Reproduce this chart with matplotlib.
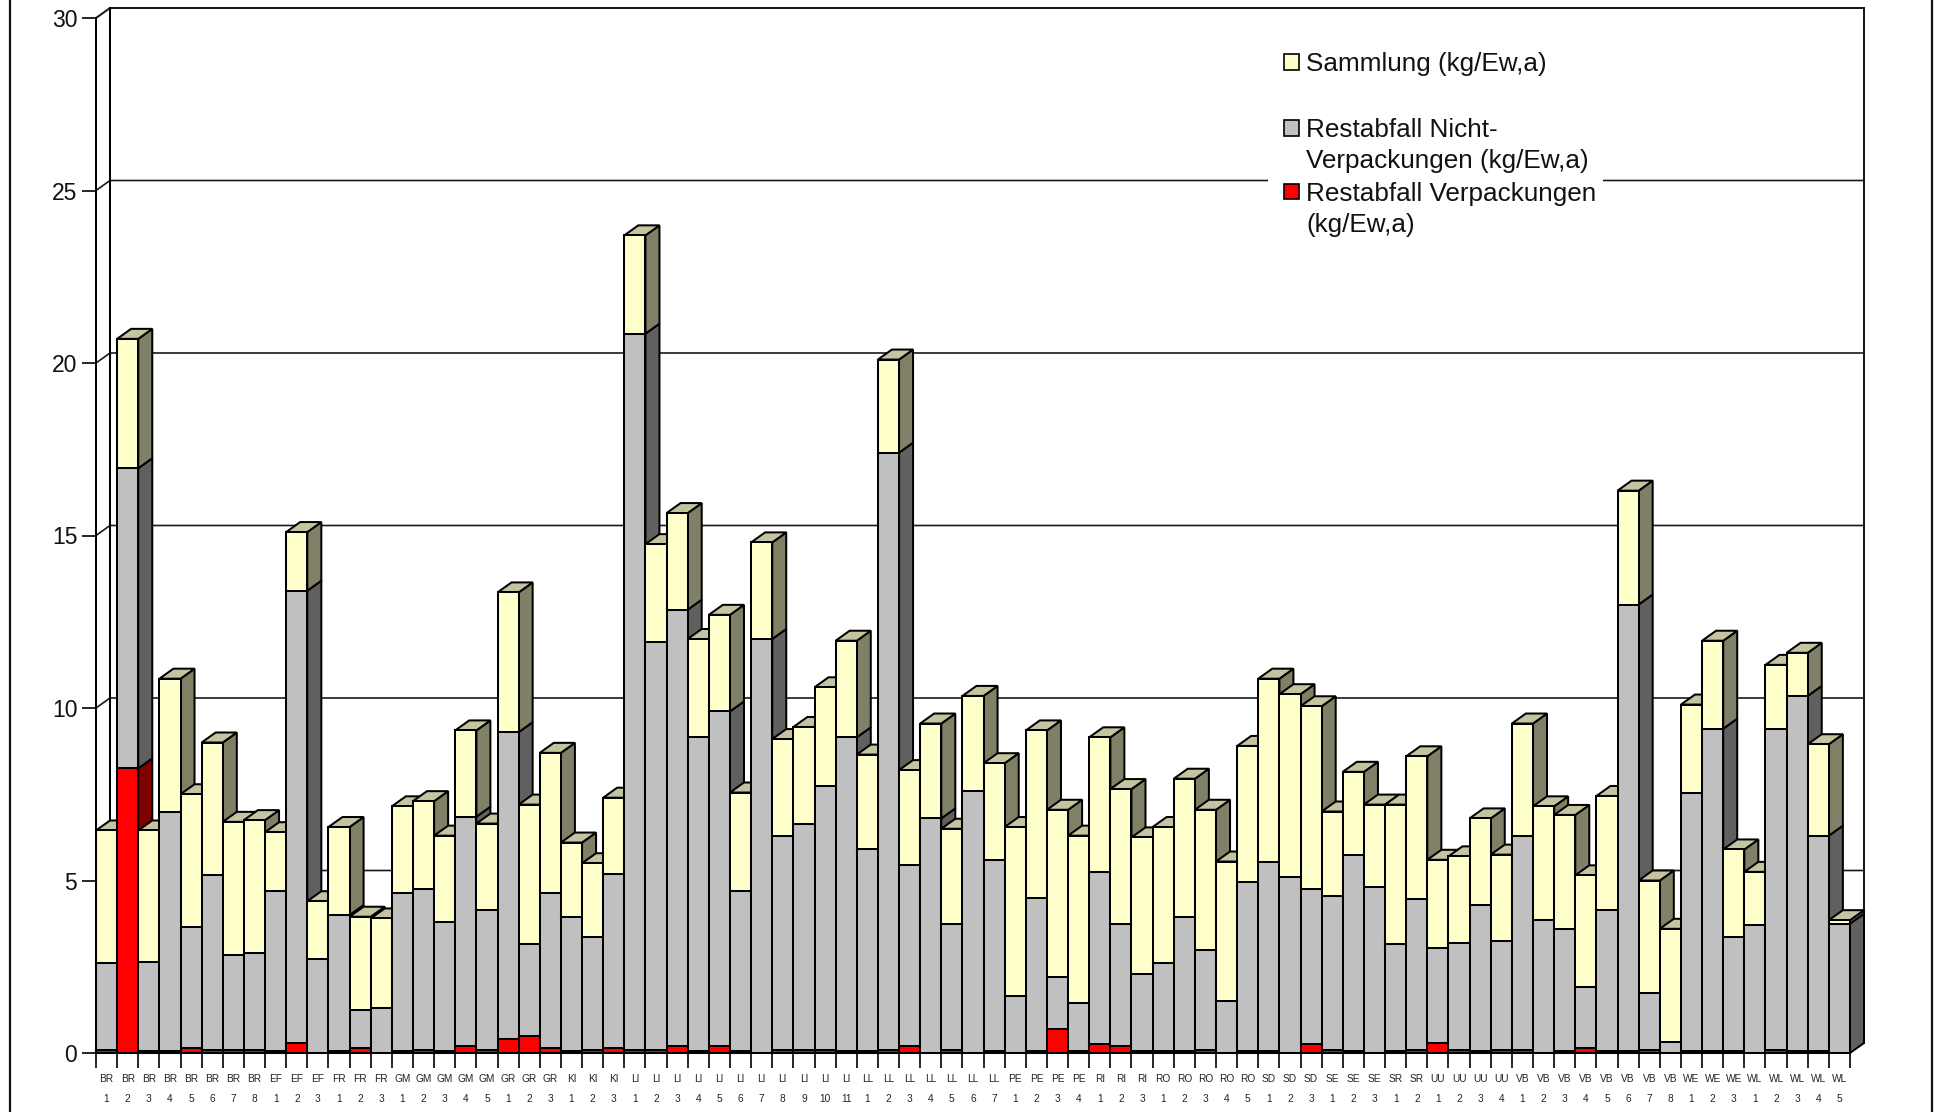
import numpy as np
import matplotlib
matplotlib.use("Agg")
import matplotlib.pyplot as plt
from matplotlib.patches import Polygon, Rectangle
from matplotlib.lines import Line2D

plt.rcParams['font.family'] = ['Liberation Sans', 'DejaVu Sans']

# Gebiete und Anzahl der Balken je Gebiet
regions = ['BR', 'EF', 'FR', 'GM', 'GR', 'KI', 'LI', 'LL', 'PE', 'RI', 'RO', 'SD', 'SE', 'SR', 'UU', 'VB', 'WE', 'WL']
region_counts = [8, 3, 3, 5, 3, 3, 11, 7, 4, 3, 5, 3, 3, 2, 4, 8, 3, 5]

verpackungen = [0.10, 8.25, 0.05, 0.05, 0.15, 0.10, 0.10, 0.10, 0.05, 0.28, 0.00, 0.05, 0.15, 0.00, 0.05, 0.10, 0.05,
                0.20, 0.10, 0.40, 0.50, 0.15, 0.05, 0.10, 0.15, 0.10, 0.10, 0.20, 0.05, 0.20, 0.05, 0.00, 0.10, 0.10,
                0.10, 0.05, 0.05, 0.10, 0.20, 0.00, 0.10, 0.00, 0.05, 0.00, 0.05, 0.70, 0.05, 0.25, 0.20, 0.05, 0.05,
                0.05, 0.10, 0.00, 0.05, 0.05, 0.00, 0.25, 0.10, 0.05, 0.00, 0.05, 0.10, 0.30, 0.10, 0.05, 0.10, 0.10,
                0.00, 0.05, 0.15, 0.05, 0.05, 0.10, 0.00, 0.05, 0.05, 0.05, 0.00, 0.10, 0.05, 0.05, 0.00]
# Obergrenze Restabfall (inkl. Verpackungen)
restabfall_oben = [2.60, 16.95, 2.65, 7.00, 3.65, 5.15, 2.85, 2.90, 4.70, 13.40, 2.72, 4.00, 1.25, 1.30, 4.65, 4.75,
                   3.80, 6.85, 4.15, 9.30, 3.15, 4.65, 3.95, 3.35, 5.20, 20.85, 11.90, 12.85, 9.15, 9.90, 4.70, 12.00,
                   6.30, 6.65, 7.75, 9.15, 5.90, 17.40, 5.45, 6.80, 3.75, 7.60, 5.60, 1.65, 4.50, 2.20, 1.45, 5.25,
                   3.75, 2.30, 2.60, 3.95, 3.00, 1.50, 4.95, 5.55, 5.10, 4.75, 4.55, 5.75, 4.80, 3.15, 4.45, 3.05,
                   3.20, 4.30, 3.25, 6.30, 3.85, 3.60, 1.90, 4.15, 13.00, 1.75, 0.33, 7.55, 9.40, 3.35, 3.70, 9.40,
                   10.35, 6.30, 3.75]
# Gesamthöhe der Balken
gesamt = [6.45, 20.70, 6.45, 10.85, 7.50, 9.00, 6.70, 6.75, 6.40, 15.10, 4.40, 6.55, 3.95, 3.90, 7.15, 7.30, 6.30,
          9.35, 6.65, 13.35, 7.20, 8.70, 6.10, 5.50, 7.40, 23.70, 14.75, 15.65, 12.00, 12.70, 7.55, 14.80, 9.10, 9.45,
          10.60, 11.95, 8.65, 20.10, 8.20, 9.55, 6.50, 10.35, 8.40, 6.55, 9.35, 7.05, 6.30, 9.15, 7.65, 6.25, 6.55,
          7.95, 7.05, 5.55, 8.90, 10.85, 10.40, 10.05, 7.00, 8.15, 7.20, 7.20, 8.60, 5.60, 5.70, 6.80, 5.75, 9.55,
          7.15, 6.90, 5.15, 7.45, 16.30, 5.00, 3.60, 10.10, 11.95, 5.90, 5.25, 11.25, 11.60, 8.95, 3.85]

y_ticks = [0, 5, 10, 15, 20, 25, 30]
legend_labels = ['Sammlung (kg/Ew,a)', 'Restabfall Nicht-\nVerpackungen (kg/Ew,a)', 'Restabfall Verpackungen\n(kg/Ew,a)']

# Farben: Front, Seite, Deckel
red = ('#FF0000', '#800000')
grey = ('#C0C0C0', '#606060')
yellow = ('#FFFFCC', '#808066')
yellow_top = '#C4C4A0'
line_w = 1.45

W, H = 1934, 1112
left, right, y0_px, y30_px = 96, 1850, 1053, 18

fig = plt.figure(figsize=(W / 100, H / 100), dpi=100)
ax = fig.add_axes([left / W, 1 - y0_px / H, (right - left) / W, (y0_px - y30_px) / H])

n = len(gesamt)
ax.set_xlim(-0.5, n - 0.5)
ax.set_ylim(0, 30)
dx = 14 / ((right - left) / n)
dy = 10 / ((y0_px - y30_px) / 30)

# Rückwand mit Gitterlinien
for t in y_ticks:
    ax.plot([-0.5, -0.5 + dx, n - 0.5 + dx], [t, t + dy, t + dy], color='#1a1a1a', lw=1.2 if t < 30 else line_w,
            clip_on=False, zorder=1)
ax.plot([-0.5 + dx, -0.5 + dx], [dy, 30 + dy], color='black', lw=line_w, clip_on=False, zorder=1)
ax.plot([n - 0.5 + dx, n - 0.5 + dx], [dy, 30 + dy], color='#1a1a1a', lw=line_w, clip_on=False, zorder=1)

# Balken von links nach rechts, jeder verdeckt die Seite des vorigen
z = 2
for i in range(n):
    stops = [0, verpackungen[i], restabfall_oben[i], gesamt[i]]
    colors = [red, grey, yellow]
    for k in range(3):
        b, t = stops[k], stops[k + 1]
        if t <= b:
            continue
        ax.add_patch(Polygon([(i + 0.5, b), (i + 0.5 + dx, b + dy), (i + 0.5 + dx, t + dy), (i + 0.5, t)],
                             facecolor=colors[k][1], edgecolor='black', lw=line_w, clip_on=False, zorder=z))
    ax.add_patch(Polygon([(i - 0.5, gesamt[i]), (i - 0.5 + dx, gesamt[i] + dy), (i + 0.5 + dx, gesamt[i] + dy),
                          (i + 0.5, gesamt[i])],
                         facecolor=yellow_top, edgecolor='black', lw=line_w, clip_on=False, zorder=z))
    z += 1
    for k in range(3):
        b, t = stops[k], stops[k + 1]
        if t <= b:
            continue
        ax.bar(i, t - b, bottom=b, width=1.0, color=colors[k][0], edgecolor='black', linewidth=line_w,
               clip_on=False, zorder=z)
    z += 1

# Achsen
for s in ['top', 'right']:
    ax.spines[s].set_visible(False)
for s in ['left', 'bottom']:
    ax.spines[s].set_linewidth(line_w)
    ax.spines[s].set_zorder(z + 1)

ax.set_yticks(y_ticks)
ax.tick_params(axis='y', length=10, width=1.2, pad=3.5, labelsize=16.5, labelcolor='#111111')

x_labels = [f'{r}\n{j + 1}' for r, c in zip(regions, region_counts) for j in range(c)]
ax.set_xticks(np.arange(n + 1) - 0.5)
ax.set_xticklabels([])
ax.set_xticks(np.arange(n), labels=x_labels, minor=True)
ax.tick_params(axis='x', which='major', length=10.8, width=1.2)
ax.tick_params(axis='x', which='minor', length=0, pad=15, labelsize=7.3, labelcolor='#222222')
for lab in ax.get_xticklabels(minor=True):
    lab.set_linespacing(2.3)


def fig_px(x, y):
    return x / W, 1 - y / H


# Legende (weißer Kasten unterbricht die Gitterlinie)
x_w, y_w = fig_px(1268, 246)
fig.add_artist(Rectangle((x_w, y_w), 335 / W, 210 / H, transform=fig.transFigure, facecolor='white',
                         edgecolor='none', zorder=5))
for label, color, y_px in zip(legend_labels, [yellow[0], grey[0], red[0]], [62, 128, 192]):
    xr, yr = fig_px(1284, y_px + 7.5)
    fig.add_artist(Rectangle((xr, yr), 15 / W, 15 / H, transform=fig.transFigure, facecolor=color,
                             edgecolor='black', lw=1.2, zorder=6))
    xt, yt = fig_px(1306, y_px - 10)
    fig.text(xt, yt, label, fontsize=18.85, va='top', ha='left', color='#111111', linespacing=1.38, zorder=6)

# Rahmen links und rechts
for x_px in [10, 1932]:
    fig.add_artist(Line2D([x_px / W, x_px / W], [0, 1], transform=fig.transFigure, color='#111111', lw=1.6))

fig.savefig('out.png', dpi=100)
